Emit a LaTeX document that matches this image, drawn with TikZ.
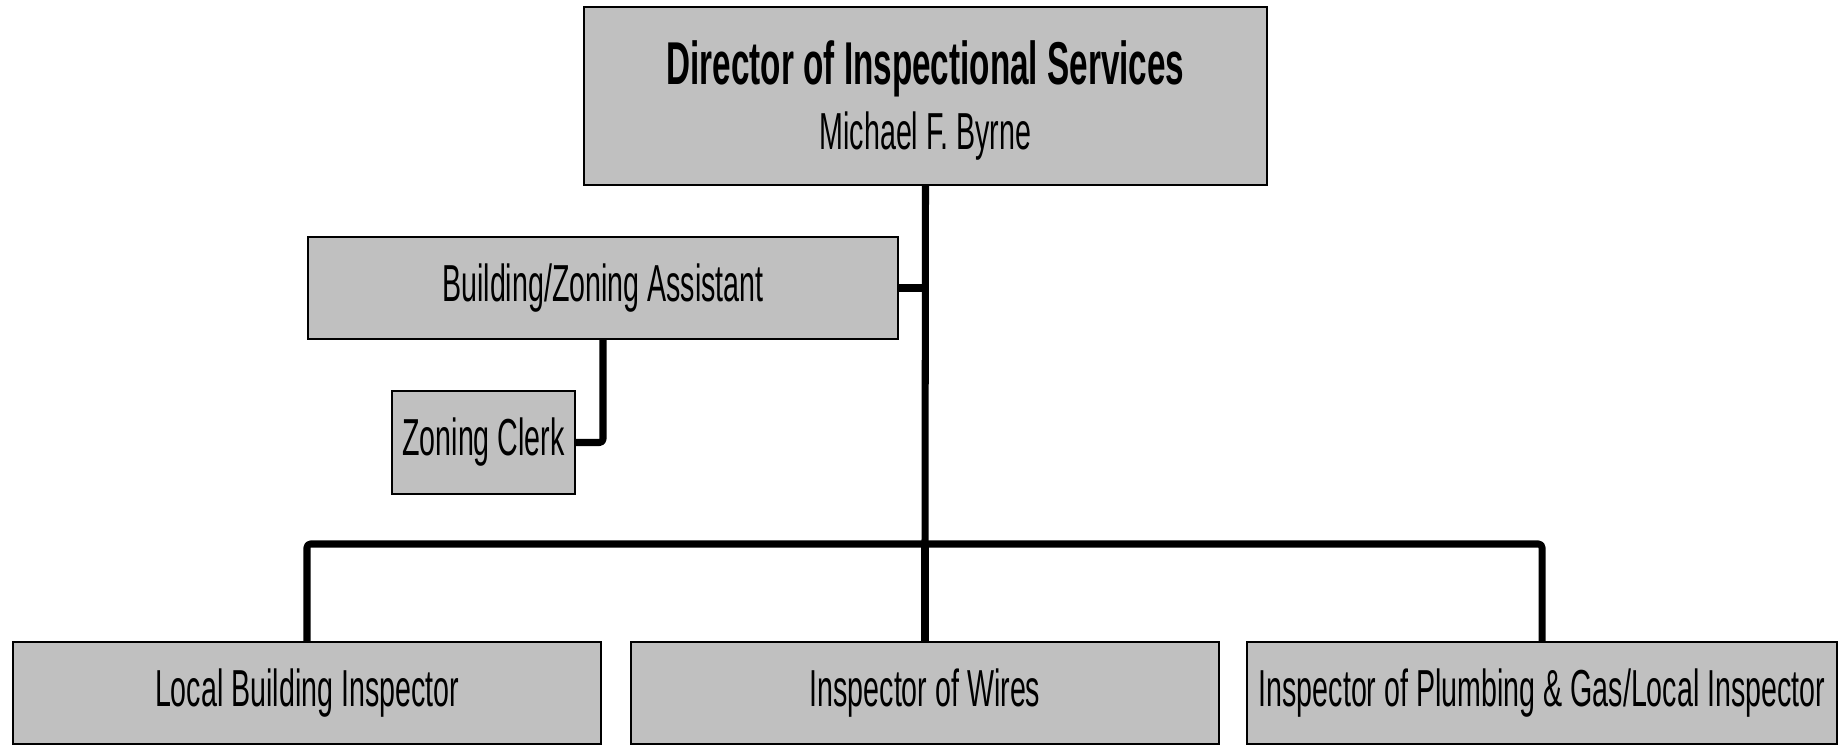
\documentclass[tikz,border=0pt]{standalone}
\usepackage{fontspec}
\usepackage{tikz}
\usetikzlibrary{positioning}
\newfontfamily\orgfont{Liberation Sans}[FakeStretch=0.55]
\definecolor{boxfill}{RGB}{192,192,192}
\tikzset{
  orgbox/.style={draw=black, fill=boxfill, line width=0.6pt, inner sep=0pt, outer sep=0pt,
                 minimum height=1.02cm, align=center, font=\orgfont\fontsize{14.8}{17}\selectfont},
  link/.style={black, line width=2pt, line join=round, rounded corners=1pt},
}

\begin{document}
\begin{tikzpicture}[x=0.01cm, y=-0.01cm]
  \useasboundingbox (0,0) rectangle (1845,745);
  % --- top
  \node[orgbox, minimum width=6.83cm, minimum height=1.78cm] (dir) at (925.5,96)
       {\rule{0pt}{15pt}{\bfseries\fontsize{17.2}{20}\selectfont Director of Inspectional Services}\\[1.5pt] Michael F. Byrne};
  % --- staff
  \node[orgbox, minimum width=5.90cm] (bza) at (603,288) {Building/Zoning Assistant};
  \node[orgbox, minimum width=1.83cm, minimum height=1.03cm] (zcl) at (483.5,442.5) {Zoning Clerk};
  % --- inspectors
  \coordinate (bus) at (925,544);
  \node[orgbox, minimum width=5.88cm] (lbi) at (307,693) {Local Building Inspector};
  \node[orgbox, minimum width=5.88cm] (wir) at (925,693) {Inspector of Wires};
  \node[orgbox, minimum width=5.90cm] (pgi) at (1542,693) {Inspector of Plumbing \& Gas/Local Inspector};
  % --- connectors
  \draw[link] (dir.south) -- (bus);
  \draw[link] (bza.east) -- (bza.east -| dir.south);
  \draw[link] (bza.south) |- (zcl.east);
  \draw[link] (lbi.north) |- (bus) -| (pgi.north);
  \draw[link] (bus) -- (wir.north);
\end{tikzpicture}
\end{document}
